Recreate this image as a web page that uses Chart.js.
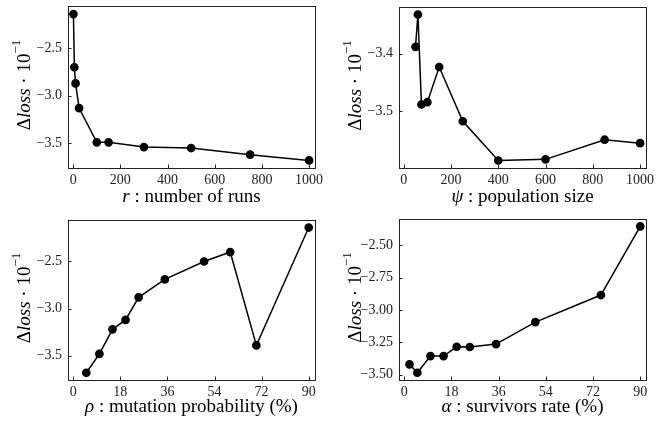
<!DOCTYPE html>
<html>
<head>
<meta charset="utf-8">
<script src="https://cdn.jsdelivr.net/npm/chart.js@4.4.1/dist/chart.umd.min.js"></script>
<style>
    body { margin: 0; background: #fff; }
    #fig { position: relative; width: 662px; height: 421px; }
    #fig canvas { position: absolute; }
</style>
</head>
<body>
<div id="fig">
    <canvas id="c1" width="331" height="210" style="left:0;top:0"></canvas>
    <canvas id="c2" width="331" height="210" style="left:331px;top:0"></canvas>
    <canvas id="c3" width="331" height="211" style="left:0;top:210px"></canvas>
    <canvas id="c4" width="331" height="211" style="left:331px;top:210px"></canvas>
</div>
<script>
// 데이터
const runsX = [1, 5, 10, 25, 100, 150, 300, 500, 750, 1000];
const runsY = [-2.14, -2.70, -2.87, -3.13, -3.49, -3.49, -3.54, -3.55, -3.62, -3.68];
const popX = [50, 60, 75, 100, 150, 250, 400, 600, 850, 1000];
const popY = [-3.388, -3.332, -3.488, -3.484, -3.423, -3.517, -3.585, -3.583, -3.549, -3.555];
const mutX = [5, 10, 15, 20, 25, 35, 50, 60, 70, 90];
const mutY = [-3.68, -3.48, -3.22, -3.12, -2.88, -2.69, -2.50, -2.40, -3.39, -2.14];
const survX = [2, 5, 10, 15, 20, 25, 35, 50, 75, 90];
const survY = [-3.42, -3.485, -3.356, -3.356, -3.284, -3.286, -3.263, -3.093, -2.884, -2.353];

// 눈금
const xTicksBig = [0, 200, 400, 600, 800, 1000];
const xTicksPct = [0, 18, 36, 54, 72, 90];
const yTicksRuns = [-3.5, -3.0, -2.5];
const yTicksPop = [-3.5, -3.4];
const yTicksMut = [-3.5, -3.0, -2.5];
const yTicksSurv = [-3.5, -3.25, -3.0, -2.75, -2.5];

const SERIF = '"Liberation Serif", "DejaVu Serif", serif';
const yLabel = [{t: 'Δ'}, {t: 'loss', it: true}, {t: ' · 10'}, {t: '−1', sup: true}];

function minus(v, d) {
    return v.toFixed(d).replace('-', '−');
}

function partFont(p) {
    return (p.it ? 'italic ' : '') + (p.sup ? 13 : 19) + 'px ' + SERIF;
}

function richText(ctx, parts, x, y, rot) {
    ctx.save();
    ctx.translate(x, y);
    if (rot) ctx.rotate(-Math.PI / 2);
    ctx.fillStyle = '#000';
    ctx.textBaseline = 'middle';
    ctx.textAlign = 'left';
    let widths = parts.map(p => { ctx.font = partFont(p); return ctx.measureText(p.t).width; });
    let cx = -widths.reduce((a, b) => a + b, 0) / 2;
    parts.forEach((p, i) => {
        ctx.font = partFont(p);
        ctx.fillText(p.t, cx, p.sup ? -8 : 0);
        cx += widths[i];
    });
    ctx.restore();
}

// 프레임 + 안쪽 눈금 + 축 제목
const framePlugin = {
    id: 'frame',
    afterDraw(chart, args, opts) {
        const ctx = chart.ctx;
        const a = chart.chartArea;
        ctx.save();
        ctx.strokeStyle = '#222';
        ctx.lineWidth = 1;
        ctx.strokeRect(Math.round(a.left) + 0.5, Math.round(a.top) + 0.5,
            Math.round(a.right - a.left), Math.round(a.bottom - a.top));
        ctx.beginPath();
        chart.scales.x.ticks.forEach(t => {
            let px = Math.round(chart.scales.x.getPixelForValue(t.value)) + 0.5;
            ctx.moveTo(px, a.bottom);
            ctx.lineTo(px, a.bottom - 3.5);
        });
        chart.scales.y.ticks.forEach(t => {
            let py = Math.round(chart.scales.y.getPixelForValue(t.value)) + 0.5;
            ctx.moveTo(a.left, py);
            ctx.lineTo(a.left + 3.5, py);
        });
        ctx.stroke();
        ctx.restore();
        richText(ctx, opts.xLabel, (a.left + a.right) / 2, 197, false);
        richText(ctx, yLabel, 25, (a.top + a.bottom) / 2 - 2, true);
    }
};

function makeChart(id, xs, ys, xr, yr, xTicks, yTicks, yDec, top, bottom, xLabel) {
    const canvas = document.getElementById(id);
    const h = canvas.height;
    return new Chart(canvas.getContext('2d'), {
        type: 'line',
        data: {
            datasets: [{
                data: xs.map((x, i) => ({x: x, y: ys[i]})),
                borderColor: '#000',
                backgroundColor: '#000',
                borderWidth: 1.5,
                pointRadius: 3.6,
                pointHoverRadius: 3.6,
                tension: 0,
            }]
        },
        options: {
            responsive: false,
            animation: false,
            layout: {
                padding: {top: top, right: 16, left: 0, bottom: 0}
            },
            scales: {
                x: {
                    type: 'linear',
                    min: xr[0],
                    max: xr[1],
                    afterBuildTicks: s => { s.ticks = xTicks.map(v => ({value: v})); },
                    afterFit: s => {
                        s.height = h - bottom;
                        s.paddingLeft = 0;
                        s.paddingRight = 0;
                    },
                    grid: {display: false, drawTicks: false},
                    border: {display: false},
                    ticks: {
                        padding: 4,
                        color: '#222',
                        font: {family: SERIF, size: 14},
                        maxRotation: 0,
                        callback: v => String(v),
                    }
                },
                y: {
                    min: yr[0],
                    max: yr[1],
                    afterBuildTicks: s => { s.ticks = yTicks.map(v => ({value: v})); },
                    afterFit: s => {
                        s.width = 68;
                        s.paddingTop = 0;
                        s.paddingBottom = 0;
                    },
                    grid: {display: false, drawTicks: false},
                    border: {display: false},
                    ticks: {
                        padding: 6,
                        color: '#222',
                        font: {family: SERIF, size: 14},
                        callback: v => minus(v, yDec),
                    }
                }
            },
            plugins: {
                legend: {display: false},
                tooltip: {enabled: false},
                frame: {xLabel: xLabel},
            }
        },
        plugins: [framePlugin]
    });
}

makeChart('c1', runsX, runsY, [-22, 1025], [-3.76, -2.055], xTicksBig, yTicksRuns, 1, 6, 168,
    [{t: 'r', it: true}, {t: ' : number of runs'}]);
makeChart('c2', popX, popY, [-20, 1025], [-3.598, -3.319], xTicksBig, yTicksPop, 1, 7, 168,
    [{t: 'ψ', it: true}, {t: ' : population size'}]);
makeChart('c3', mutX, mutY, [-2, 92.4], [-3.757, -2.06], xTicksPct, yTicksMut, 1, 10, 170,
    [{t: 'ρ', it: true}, {t: ' : mutation probability (%)'}]);
makeChart('c4', survX, survY, [-2, 92.2], [-3.541, -2.296], xTicksPct, yTicksSurv, 2, 9, 170,
    [{t: 'α', it: true}, {t: ' : survivors rate (%)'}]);
</script>
</body>
</html>
